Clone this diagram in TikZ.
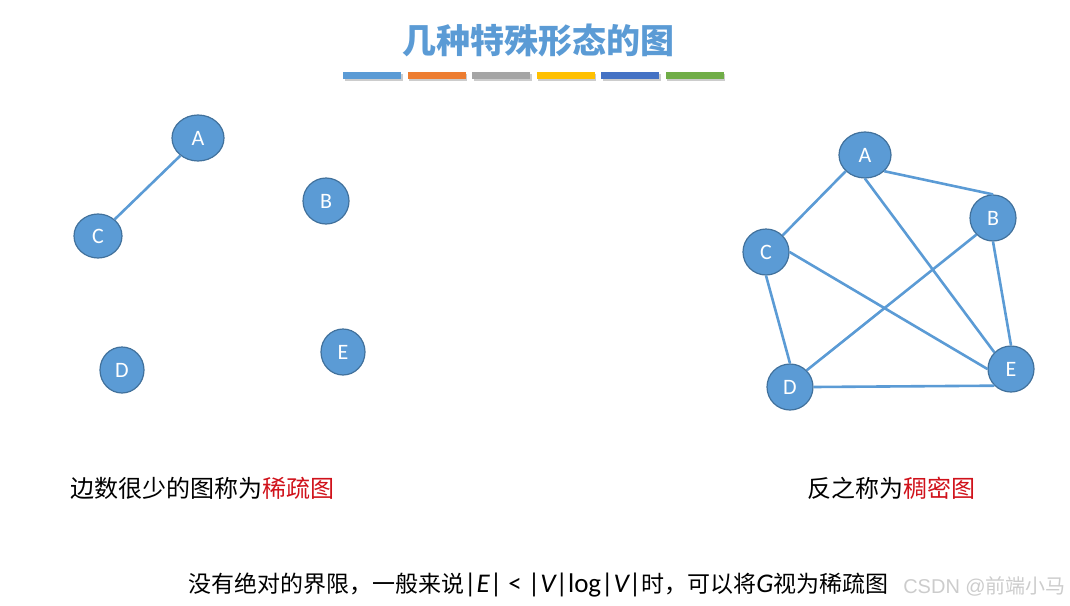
\documentclass[tikz,border=0pt]{standalone}
\usepackage{fontspec}
\setmainfont{Carlito}
\newfontfamily\cjk{Noto Sans CJK SC}
\newfontfamily\marksans{Liberation Sans}
\usetikzlibrary{shapes.geometric}
\definecolor{vblue}{HTML}{5B9BD5}
\definecolor{vrim}{HTML}{41719C}
\definecolor{barorange}{HTML}{ED7D31}
\definecolor{bargray}{HTML}{A5A5A5}
\definecolor{baryellow}{HTML}{FFC000}
\definecolor{bardark}{HTML}{4472C4}
\definecolor{bargreen}{HTML}{70AD47}
\definecolor{capred}{HTML}{D0121B}
\newcommand{\latn}[1]{{\fontsize{27}{27}\rmfamily #1}}
\begin{document}
\begin{tikzpicture}[x=1pt, y=-1pt,
		vtx/.style={ellipse, draw=vrim, fill=vblue, line width=1.2pt, inner sep=0pt,
			minimum width=46pt, minimum height=46pt, text=white, font=\fontsize{22}{22}\selectfont},
		edge/.style={vblue, line width=2.6pt},
		captext/.style={font=\fontsize{24}{24}\selectfont\cjk, inner sep=0pt}]
	\useasboundingbox (0,0) rectangle (1070,605);
	\node[font=\fontsize{34}{34}\selectfont\cjk\bfseries, text=vblue] (title) at (538,40) {几种特殊形态的图};
	\foreach \c [count=\i from 0] in {vblue,barorange,bargray,baryellow,bardark,bargreen}{
		\fill[black!20] (344.5+64.5*\i,73.5) rectangle ++(58,7.5);
		\fill[\c] (343+64.5*\i,72) rectangle ++(58,7);
	}
	% sparse graph
	\node[vtx, minimum width=52pt] (a1) at (198,138) {A};
	\node[vtx] (b1) at (326,201) {B};
	\node[vtx, minimum width=48pt, minimum height=44pt] (c1) at (98,236) {C};
	\node[vtx, minimum width=44pt] (d1) at (122,370) {D};
	\node[vtx, minimum width=44pt] (e1) at (343,352) {E};
	\draw[edge] (a1.225) -- (c1.45);
	% dense graph
	\node[vtx, minimum width=52pt] (a2) at (865,155) {A};
	\node[vtx] (b2) at (993,218) {B};
	\node[vtx] (c2) at (766,252) {C};
	\node[vtx] (d2) at (790,387) {D};
	\node[vtx] (e2) at (1011,369) {E};
	\draw[edge] (a2.220) -- (c2.45);
	\draw[edge] (a2.-40) -- (b2.north);
	\draw[edge] (a2.south) -- (e2.135);
	\draw[edge] (c2.east) -- (e2.west);
	\draw[edge] (c2.south) -- (d2.north);
	\draw[edge] (b2.225) -- (d2.45);
	\draw[edge] (b2.south) -- (e2.north);
	\draw[edge] (d2.east) -- (e2.225);
	\node[captext, anchor=west] (sparse) at (70,488) {边数很少的图称为\textcolor{capred}{稀疏图}};
	\node[captext] (dense) at (891,488) {反之称为\textcolor{capred}{稠密图}};
	\node[captext, anchor=west, font=\fontsize{23}{23}\selectfont\cjk] (rule) at (188,585)
		{没有绝对的界限，一般来说\latn{|{\itshape E}| \textless{} |{\itshape V}|log|{\itshape V}|}时，可以将\latn{\itshape G}视为稀疏图};
	\node[anchor=east, inner sep=0pt, text=black!20, font=\fontsize{20}{20}\selectfont\marksans] (mark) at (1066,586)
		{CSDN @{\cjk 前端小马}};
\end{tikzpicture}
\end{document}
